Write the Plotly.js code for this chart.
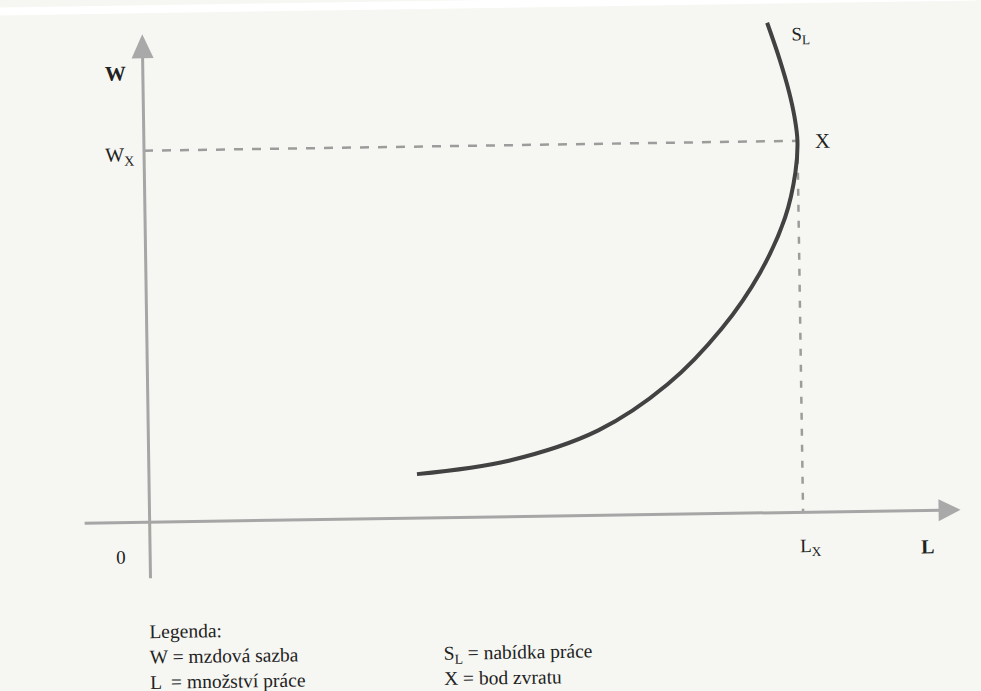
<!DOCTYPE html>
<html>
<head>
<meta charset="utf-8">
<script src="https://cdn.plot.ly/plotly-3.0.1.min.js"></script>
<style>
  html, body { margin: 0; padding: 0; background: #f6f7f2; overflow: hidden; }
  #chart { width: 981px; height: 691px; transform: rotate(-0.87deg); transform-origin: 490px 345px; }
</style>
</head>
<body>
<div id="chart"></div>
<script>
// Backward-bending labour supply curve S_L (L = quantity of labour, W = wage rate)
const supplyL = [268, 360, 450, 520, 575, 614, 640, 651, 653.5, 651, 646, 637, 625];
const supplyW = [44, 56, 85, 130, 185, 240, 295, 340, 371.5, 395, 420, 453, 490];
// Turning point X
const turnL = 653.5;
const turnW = 371.5;
// Labels
const axisLabels = { w: "W", l: "L", origin: "0", wx: "W<sub>X</sub>", lx: "L<sub>X</sub>", sl: "S<sub>L</sub>", x: "X" };
const legendLines = ["Legenda:", "W = mzdová sazba", "L  = množství práce"];
const legendLines2 = ["S<sub>L</sub> = nabídka práce", "X = bod zvratu"];

const W = 981, H = 691;
const px = v => v / W;
const py = v => 1 - v / H;

const gray = '#a6a6a6';
const dashGray = '#9c9c9c';
const font = "Liberation Serif";

const traces = [
  { type: 'scatter', mode: 'lines', x: [0, turnL], y: [turnW, turnW],
    line: { color: dashGray, width: 2.5, dash: '9px,9px' }, hoverinfo: 'skip' },
  { type: 'scatter', mode: 'lines', x: [turnL, turnL], y: [turnW, 0],
    line: { color: dashGray, width: 2.5, dash: '7px,9px' }, hoverinfo: 'skip' },
  { type: 'scatter', mode: 'lines', x: supplyL, y: supplyW,
    line: { color: '#424242', width: 4, shape: 'spline', smoothing: 1 }, hoverinfo: 'skip' }
];

const shapes = [
  { type: 'rect', xref: 'paper', yref: 'paper', x0: -0.02, x1: 1.02, y0: py(8), y1: 1.05, fillcolor: '#ffffff', line: { width: 0 }, layer: 'below' },
  // vertical axis
  { type: 'line', x0: 0, x1: 0, y0: -56, y1: 466, line: { color: gray, width: 3 } },
  { type: 'path', path: 'M -11,464 L 11,464 L 0,488 Z', fillcolor: '#a9a9a9', line: { width: 0 } },
  // horizontal axis
  { type: 'line', x0: -65, x1: 792, y0: 0, y1: 0, line: { color: gray, width: 3 } },
  { type: 'path', path: 'M 789,11 L 789,-11 L 811,0 Z', fillcolor: '#a9a9a9', line: { width: 0 } }
];

function ann(text, x, y, size, opts) {
  return Object.assign({ xref: 'paper', yref: 'paper', x: px(x), y: py(y), text: text, showarrow: false,
    xanchor: 'center', yanchor: 'middle', font: { family: font, size: size, color: '#222' } }, opts || {});
}

const annotations = [
  ann('<b>' + axisLabels.w + '</b>', 119, 68, 21),
  ann(axisLabels.wx, 122, 150, 20),
  ann(axisLabels.origin, 118, 551, 19),
  ann(axisLabels.lx, 808, 552, 19),
  ann('<b>' + axisLabels.l + '</b>', 924, 553, 20),
  ann(axisLabels.sl, 805, 40, 19),
  ann(axisLabels.x, 825, 146, 21),
  ann(legendLines.join('<br>'), 143, 652, 19.5, { xanchor: 'left', align: 'left' }),
  ann(legendLines2.join('<br>'), 437, 665, 19.5, { xanchor: 'left', align: 'left' })
];

const layout = {
  width: W, height: H,
  margin: { l: 0, r: 0, t: 0, b: 0, pad: 0 },
  paper_bgcolor: '#f6f7f2', plot_bgcolor: 'rgba(0,0,0,0)',
  showlegend: false,
  font: { family: font, color: '#222' },
  xaxis: { range: [-147, 834], visible: false, showgrid: false, zeroline: false, fixedrange: true },
  yaxis: { range: [-174, 517], visible: false, showgrid: false, zeroline: false, fixedrange: true },
  shapes: shapes,
  annotations: annotations
};

Plotly.newPlot('chart', traces, layout, { displayModeBar: false, staticPlot: true });
</script>
</body>
</html>
